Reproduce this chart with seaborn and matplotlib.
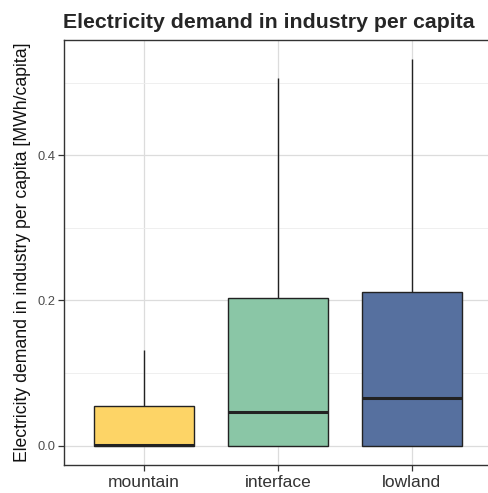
import matplotlib
matplotlib.use("Agg")
import matplotlib.pyplot as plt
import seaborn as sns
import pandas as pd
from matplotlib.ticker import MultipleLocator

# five values per region: min, Q1, median, Q3, max
regions = ["mountain", "interface", "lowland"]
mountain = [0.0, 0.0, 0.001, 0.054, 0.132]
interface = [0.0, 0.0, 0.047, 0.203, 0.507]
lowland = [0.0, 0.0, 0.066, 0.212, 0.532]
colors = ["#FDD466", "#8AC6A6", "#56709F"]

df = pd.DataFrame({
    "region": [r for r, vals in zip(regions, [mountain, interface, lowland]) for _ in vals],
    "value": mountain + interface + lowland,
})

sns.set_style("white")
plt.rcParams["font.family"] = ["Liberation Sans", "DejaVu Sans"]

fig = plt.figure(figsize=(4.88, 4.93), dpi=100)
ax = fig.add_axes([0.131, 0.0568, 0.877, 0.862])

sns.boxplot(x="region", y="value", data=df, order=regions, hue="region",
            palette=colors, saturation=1, legend=False, width=0.75,
            whis=(0, 100), showcaps=False, linewidth=1.0, linecolor="#222222",
            medianprops={"linewidth": 2.2, "color": "#222222"},
            boxprops={"edgecolor": "#222222"}, ax=ax)

ax.set_xlim(-0.6, 2.6)
ax.set_ylim(-0.0266, 0.5586)
ax.yaxis.set_major_locator(MultipleLocator(0.2))
ax.yaxis.set_minor_locator(MultipleLocator(0.1))
ax.set_yticklabels([f"{t:.1f}" for t in ax.get_yticks()])
ax.set_axisbelow(True)
ax.grid(which="major", color="#DCDCDC", linewidth=0.9)
ax.grid(which="minor", axis="y", color="#EDEDED", linewidth=0.6)
for s in ax.spines.values():
    s.set_color("#333333")
    s.set_linewidth(1.0)

ax.tick_params(axis="both", which="major", direction="out", length=4,
               width=0.9, color="#333333", bottom=True, left=True)
ax.tick_params(axis="y", which="minor", length=0)
ax.tick_params(axis="y", labelsize=9.3, labelcolor="#4D4D4D", pad=2)
ax.tick_params(axis="x", labelsize=12.5, labelcolor="#333333", pad=3)

ax.set_xlabel("")
ax.set_ylabel("Electricity demand in industry per capita [MWh/capita]",
              fontsize=12.7, color="#111111", labelpad=5)
ax.set_title("Electricity demand in industry per capita", fontsize=15.3,
             fontweight="bold", loc="left", x=-0.003, pad=9)

fig.savefig("out.png", dpi=100)
